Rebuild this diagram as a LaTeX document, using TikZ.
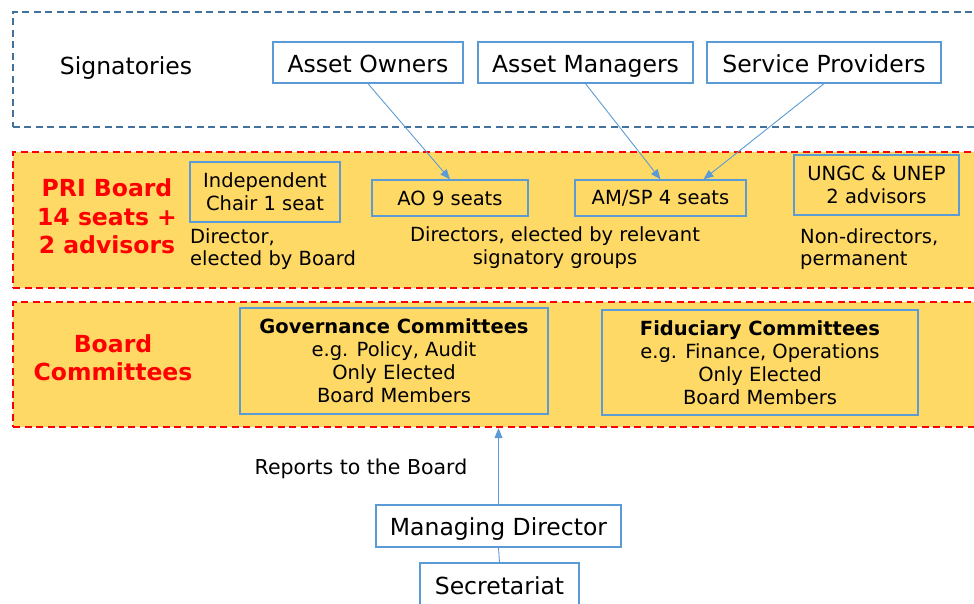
\documentclass[tikz,border=0pt]{standalone}
\usepackage{fontspec}
\setmainfont{DejaVu Sans}
\usepackage{tikz}
\usetikzlibrary{arrows.meta}
\definecolor{boardyellow}{HTML}{FFD966}
\definecolor{boxblue}{HTML}{5B9BD5}
\definecolor{sigblue}{HTML}{41719C}

\begin{document}
\begin{tikzpicture}[x=1pt,y=-1pt]
		\tikzset{
			band/.style={anchor=north west, inner sep=0pt, fill=boardyellow, draw=red, line width=2.2pt, dash pattern=on 7pt off 4.5pt},
			sigband/.style={anchor=north west, inner sep=0pt, draw=sigblue, line width=1.5pt, dash pattern=on 7pt off 4.5pt},
			member/.style={draw=boxblue, line width=1.3pt, fill=white, inner sep=0pt, align=center, text height=20pt, text depth=1pt, font=\fontsize{23.5}{28}\selectfont},
			seat/.style={draw=boxblue, line width=1.3pt, fill=boardyellow, inner sep=0pt, align=center, font=\fontsize{19.5}{23}\selectfont},
			note/.style={inner sep=0pt, font=\fontsize{19.5}{22.5}\selectfont},
			heading/.style={inner sep=0pt, text=red, align=center, font=\bfseries\fontsize{23.5}{28.5}\selectfont},
			link/.style={draw=boxblue, line width=0.9pt, -{Triangle[length=10pt,width=8pt]}}
		}
		\clip (0,0) rectangle (974,603);
		\useasboundingbox (0,0) rectangle (974,603);

		\node[sigband, minimum width=980pt, minimum height=115pt] (sig) at (12,11) {};
		\node[band, minimum width=980pt, minimum height=136pt] (board) at (12,151) {};
		\node[band, minimum width=980pt, minimum height=125pt] (cmt) at (12,301) {};

		\node[inner sep=0pt, font=\fontsize{23.5}{28}\selectfont] (signatories) at (126,68) {Signatories};
		\node[member, minimum width=190pt, minimum height=41pt] (ao) at (368,62.5) {Asset Owners};
		\node[member, minimum width=215pt, minimum height=41pt] (am) at (585.5,62.5) {Asset Managers};
		\node[member, minimum width=234pt, minimum height=41pt] (sp) at (824,62.5) {Service Providers};

		\node[heading] (pri) at (107,216.5) {PRI Board\\14 seats +\\2 advisors};
		\node[seat, minimum width=150pt, minimum height=60pt] (chair) at (265,192) {Independent\\Chair 1 seat};
		\node[note, anchor=west, align=left] (chairnote) at (190,249) {Director,\\elected by Board};
		\node[seat, minimum width=156pt, minimum height=36pt] (aoseats) at (450,198) {AO 9 seats};
		\node[seat, minimum width=171pt, minimum height=36pt] (amsp) at (660.5,198) {AM/SP 4 seats};
		\node[note, align=center] (dirnote) at (555,247.5) {Directors, elected by relevant\\signatory groups};
		\node[seat, minimum width=165pt, minimum height=60pt] (ungc) at (876.5,185) {UNGC \& UNEP\\2 advisors};
		\node[note, anchor=west, align=left] (ungcnote) at (800,249) {Non-directors,\\permanent};

		\node[heading] (cmtlabel) at (113,357.5) {Board\\Committees};
		\node[seat, minimum width=308pt, minimum height=106pt] (gov) at (394,361) {\textbf{Governance Committees}\\e.g. Policy, Audit\\Only Elected\\Board Members};
		\node[seat, minimum width=316pt, minimum height=105pt] (fid) at (760,362.5) {\textbf{Fiduciary Committees}\\e.g. Finance, Operations\\Only Elected\\Board Members};

		\node[inner sep=0pt, font=\fontsize{20.5}{24}\selectfont] (reports) at (361,469) {Reports to the Board};
		\node[member, minimum width=245pt, minimum height=42pt] (md) at (498.5,526) {Managing Director};
		\node[member, minimum width=159pt, minimum height=44pt] (sec) at (499.5,585) {Secretariat};

		\draw[link] (ao.south) -- (aoseats.north);
		\draw[link] (am.south) -- (amsp.north);
		\draw[link] (sp.south) -- ([xshift=43pt]amsp.north);
		\draw[link] (md.north) -- (md.north |- cmt.south);
		\draw[draw=boxblue, line width=0.9pt] (md.south) -- (sec.north);
	\end{tikzpicture}
\end{document}
